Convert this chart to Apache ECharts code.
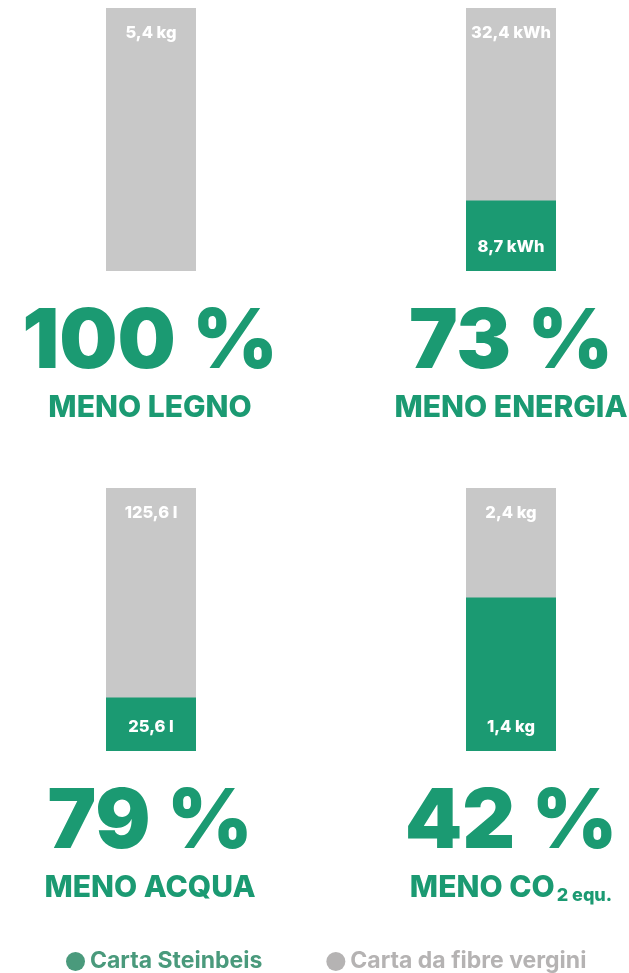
<!DOCTYPE html>
<html><head><meta charset="utf-8">
<script src="https://cdn.jsdelivr.net/npm/echarts@6/dist/echarts.min.js"></script>
<style>html,body{margin:0;padding:0;background:#fff}#c{width:629px;height:973px}</style>
</head><body><div id="c"></div>
<script>
const categories = ['Legno', 'Energia', 'Acqua', 'CO2'];
const virginValues = [5.4, 32.4, 125.6, 2.4];
const steinbeisValues = [0, 8.7, 25.6, 1.4];
const virginLabels = ['5,4 kg', '32,4 kWh', '125,6 l', '2,4 kg'];
const steinbeisLabels = ['', '8,7 kWh', '25,6 l', '1,4 kg'];
const percents = ['100 %', '73 %', '79 %', '42 %'];
const headings = ['MENO LEGNO', 'MENO ENERGIA', 'MENO ACQUA', 'MENO CO'];
const seriesNames = ['Carta Steinbeis', 'Carta da fibre vergini'];

const GREEN = '#1b9a72', GREY = '#c8c8c8';
const FONT = 'Inter';
const cols = [106, 466], rows = [8, 488];
const centers = [150, 511];
const grids = [], xAxes = [], yAxes = [], series = [], graphics = [];
categories.forEach((c, i) => {
  const col = i % 2, row = Math.floor(i / 2);
  grids.push({left: cols[col], top: rows[row], width: 90, height: 263});
  xAxes.push({type: 'category', gridIndex: i, data: [c], show: false});
  yAxes.push({type: 'value', gridIndex: i, min: 0, max: virginValues[i], show: false});
  series.push({
    name: seriesNames[1], type: 'bar', xAxisIndex: i, yAxisIndex: i,
    data: [virginValues[i]], barWidth: 90, barGap: '-100%',
    itemStyle: {color: GREY}, silent: true,
    label: {show: true, position: 'insideTop', distance: 17, formatter: () => virginLabels[i],
      color: '#fff', fontFamily: FONT, fontWeight: 800, fontSize: 16.5}
  });
  series.push({
    name: seriesNames[0], type: 'bar', xAxisIndex: i, yAxisIndex: i,
    data: [steinbeisValues[i]], barWidth: 90, barGap: '-100%',
    itemStyle: {color: GREEN}, silent: true,
    label: {show: steinbeisValues[i] > 0, position: 'insideBottom', distance: 15, formatter: () => steinbeisLabels[i],
      color: '#fff', fontFamily: FONT, fontWeight: 800, fontSize: 16.5}
  });
  const baseY = rows[row] + 263;
  graphics.push({type: 'text', x: centers[col], y: baseY + 72, style: {
    text: percents[i], textAlign: 'center', textVerticalAlign: 'middle',
    font: `900 82px ${FONT}`, fill: GREEN}});
  const isCO2 = i === 3;
  graphics.push({type: 'text', x: centers[col], y: baseY + 137, style: {
    text: isCO2 ? `{m|${headings[i]}}{s|2 equ.}` : `{m|${headings[i]}}`,
    textAlign: 'center', textVerticalAlign: 'middle',
    rich: {
      m: {font: `800 30px ${FONT}`, fill: GREEN},
      s: {font: `800 18px ${FONT}`, fill: GREEN, padding: [16, 0, 0, 2]}
    }}});
});

const chart = echarts.init(document.getElementById('c'));
chart.setOption({
  animation: false,
  grid: grids, xAxis: xAxes, yAxis: yAxes, series: series,
  graphic: graphics,
  legend: {
    left: 66, top: 950, padding: 0, itemGap: 64, icon: 'circle', itemWidth: 19, itemHeight: 19,
    selectedMode: false,
    data: [
      {name: seriesNames[0], itemStyle: {color: '#4a9a7c'}, textStyle: {color: '#4a9a7c'}},
      {name: seriesNames[1], itemStyle: {color: '#b5b3b3'}, textStyle: {color: '#b5b3b3'}}
    ],
    textStyle: {fontFamily: FONT, fontWeight: 700, fontSize: 23}
  }
});
</script></body></html>
